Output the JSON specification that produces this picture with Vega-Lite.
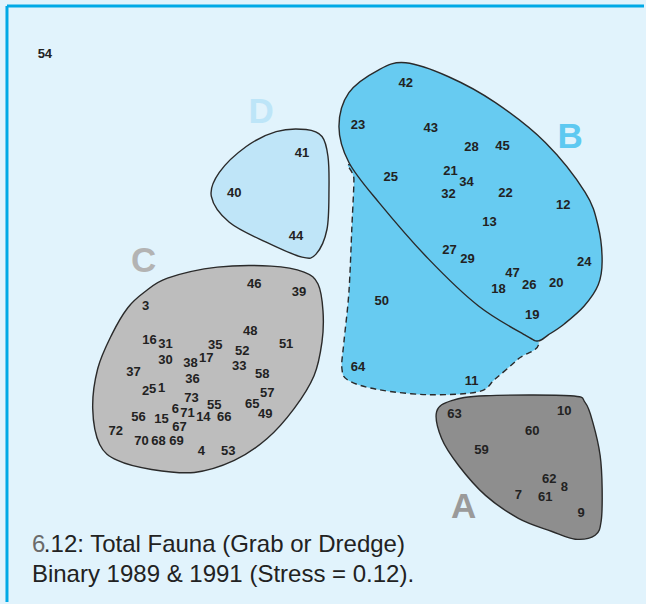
{
  "$schema": "https://vega.github.io/schema/vega-lite/v6.json",
  "width": 646,
  "height": 604,
  "padding": 0,
  "autosize": {"type": "fit", "contains": "padding"},
  "background": "#e1f3fc",
  "config": {"view": {"stroke": null}},
  "datasets": {
    "frame": [
      {"x": 7, "y": 6, "x2": 646, "y2": 6},
      {"x": 7, "y": 6, "x2": 7, "y2": 604}
    ],
    "hull": [
      {"g": "C", "i": 1, "x": 145, "y": 293}, {"g": "C", "i": 2, "x": 168, "y": 279}, {"g": "C", "i": 3, "x": 218, "y": 268}, {"g": "C", "i": 4, "x": 272, "y": 267}, {"g": "C", "i": 5, "x": 305, "y": 273}, {"g": "C", "i": 6, "x": 319, "y": 285}, {"g": "C", "i": 7, "x": 324, "y": 312}, {"g": "C", "i": 8, "x": 323, "y": 343}, {"g": "C", "i": 9, "x": 315, "y": 377}, {"g": "C", "i": 10, "x": 295, "y": 410}, {"g": "C", "i": 11, "x": 268, "y": 440}, {"g": "C", "i": 12, "x": 235, "y": 462}, {"g": "C", "i": 13, "x": 195, "y": 474}, {"g": "C", "i": 14, "x": 152, "y": 471}, {"g": "C", "i": 15, "x": 118, "y": 462}, {"g": "C", "i": 16, "x": 100, "y": 446}, {"g": "C", "i": 17, "x": 93, "y": 410}, {"g": "C", "i": 18, "x": 98, "y": 370}, {"g": "C", "i": 19, "x": 112, "y": 336}, {"g": "C", "i": 20, "x": 128, "y": 309},
      {"g": "A", "i": 1, "x": 438, "y": 413}, {"g": "A", "i": 2, "x": 453, "y": 402}, {"g": "A", "i": 3, "x": 487, "y": 397}, {"g": "A", "i": 4, "x": 572, "y": 397}, {"g": "A", "i": 5, "x": 587, "y": 404}, {"g": "A", "i": 6, "x": 595, "y": 425}, {"g": "A", "i": 7, "x": 602, "y": 457}, {"g": "A", "i": 8, "x": 604, "y": 490}, {"g": "A", "i": 9, "x": 603, "y": 523}, {"g": "A", "i": 10, "x": 597, "y": 537}, {"g": "A", "i": 11, "x": 577, "y": 541}, {"g": "A", "i": 12, "x": 553, "y": 533}, {"g": "A", "i": 13, "x": 520, "y": 520}, {"g": "A", "i": 14, "x": 487, "y": 497}, {"g": "A", "i": 15, "x": 460, "y": 467}, {"g": "A", "i": 16, "x": 443, "y": 440},
      {"g": "D", "i": 1, "x": 277, "y": 132}, {"g": "D", "i": 2, "x": 307, "y": 130}, {"g": "D", "i": 3, "x": 323, "y": 137}, {"g": "D", "i": 4, "x": 329, "y": 157}, {"g": "D", "i": 5, "x": 330, "y": 190}, {"g": "D", "i": 6, "x": 328, "y": 230}, {"g": "D", "i": 7, "x": 317, "y": 255}, {"g": "D", "i": 8, "x": 303, "y": 258}, {"g": "D", "i": 9, "x": 267, "y": 243}, {"g": "D", "i": 10, "x": 230, "y": 223}, {"g": "D", "i": 11, "x": 212, "y": 197}, {"g": "D", "i": 12, "x": 220, "y": 173}, {"g": "D", "i": 13, "x": 247, "y": 147},
      {"g": "E", "i": 1, "x": 353, "y": 166}, {"g": "E", "i": 2, "x": 420, "y": 200}, {"g": "E", "i": 3, "x": 500, "y": 290}, {"g": "E", "i": 4, "x": 540, "y": 341}, {"g": "E", "i": 5, "x": 520, "y": 360}, {"g": "E", "i": 6, "x": 497, "y": 380}, {"g": "E", "i": 7, "x": 480, "y": 393}, {"g": "E", "i": 8, "x": 430, "y": 396}, {"g": "E", "i": 9, "x": 380, "y": 391}, {"g": "E", "i": 10, "x": 350, "y": 382}, {"g": "E", "i": 11, "x": 343, "y": 370}, {"g": "E", "i": 12, "x": 345, "y": 343}, {"g": "E", "i": 13, "x": 350, "y": 293}, {"g": "E", "i": 14, "x": 353, "y": 227}, {"g": "E", "i": 15, "x": 355, "y": 180},
      {"g": "B", "i": 1, "x": 407, "y": 63}, {"g": "B", "i": 2, "x": 450, "y": 77}, {"g": "B", "i": 3, "x": 497, "y": 103}, {"g": "B", "i": 4, "x": 547, "y": 143}, {"g": "B", "i": 5, "x": 587, "y": 193}, {"g": "B", "i": 6, "x": 600, "y": 227}, {"g": "B", "i": 7, "x": 604, "y": 262}, {"g": "B", "i": 8, "x": 600, "y": 286}, {"g": "B", "i": 9, "x": 586, "y": 307}, {"g": "B", "i": 10, "x": 566, "y": 325}, {"g": "B", "i": 11, "x": 550, "y": 336}, {"g": "B", "i": 12, "x": 540, "y": 342}, {"g": "B", "i": 13, "x": 528, "y": 337}, {"g": "B", "i": 14, "x": 480, "y": 307}, {"g": "B", "i": 15, "x": 430, "y": 260}, {"g": "B", "i": 16, "x": 380, "y": 203}, {"g": "B", "i": 17, "x": 350, "y": 163}, {"g": "B", "i": 18, "x": 340, "y": 127}, {"g": "B", "i": 19, "x": 350, "y": 93}, {"g": "B", "i": 20, "x": 380, "y": 70}
    ],
    "pts": [
      {"label": "54", "x": 45, "y": 54},
      {"label": "3", "x": 146, "y": 307}, {"label": "46", "x": 255, "y": 285}, {"label": "39", "x": 300, "y": 293}, {"label": "48", "x": 251, "y": 332}, {"label": "16", "x": 150, "y": 341}, {"label": "31", "x": 166, "y": 345}, {"label": "35", "x": 216, "y": 346}, {"label": "51", "x": 287, "y": 345}, {"label": "52", "x": 243, "y": 352}, {"label": "30", "x": 166, "y": 361}, {"label": "38", "x": 191, "y": 364}, {"label": "17", "x": 207, "y": 359}, {"label": "33", "x": 240, "y": 367}, {"label": "58", "x": 263, "y": 375}, {"label": "37", "x": 134, "y": 373}, {"label": "36", "x": 193, "y": 380}, {"label": "2", "x": 146, "y": 392}, {"label": "5", "x": 153, "y": 390}, {"label": "1", "x": 162, "y": 389}, {"label": "73", "x": 192, "y": 399}, {"label": "55", "x": 215, "y": 406}, {"label": "57", "x": 268, "y": 394}, {"label": "65", "x": 253, "y": 405}, {"label": "49", "x": 266, "y": 415}, {"label": "6", "x": 176, "y": 410}, {"label": "71", "x": 188, "y": 414}, {"label": "14", "x": 204, "y": 418}, {"label": "66", "x": 225, "y": 418}, {"label": "56", "x": 139, "y": 418}, {"label": "15", "x": 162, "y": 420}, {"label": "67", "x": 180, "y": 428}, {"label": "72", "x": 116, "y": 432}, {"label": "70", "x": 142, "y": 442}, {"label": "68", "x": 159, "y": 442}, {"label": "69", "x": 177, "y": 442}, {"label": "4", "x": 202, "y": 452}, {"label": "53", "x": 229, "y": 452},
      {"label": "42", "x": 407, "y": 83}, {"label": "23", "x": 359, "y": 125}, {"label": "43", "x": 432, "y": 128}, {"label": "28", "x": 473, "y": 147}, {"label": "45", "x": 504, "y": 146}, {"label": "21", "x": 452, "y": 172}, {"label": "34", "x": 468, "y": 183}, {"label": "25", "x": 392, "y": 178}, {"label": "32", "x": 450, "y": 195}, {"label": "22", "x": 507, "y": 194}, {"label": "12", "x": 565, "y": 206}, {"label": "13", "x": 491, "y": 223}, {"label": "27", "x": 451, "y": 251}, {"label": "29", "x": 469, "y": 260}, {"label": "24", "x": 586, "y": 263}, {"label": "47", "x": 514, "y": 274}, {"label": "26", "x": 531, "y": 286}, {"label": "20", "x": 558, "y": 284}, {"label": "18", "x": 500, "y": 290}, {"label": "19", "x": 534, "y": 316}, {"label": "50", "x": 383, "y": 302}, {"label": "64", "x": 359, "y": 368}, {"label": "11", "x": 473, "y": 382},
      {"label": "63", "x": 456, "y": 415}, {"label": "10", "x": 566, "y": 412}, {"label": "60", "x": 534, "y": 432}, {"label": "59", "x": 483, "y": 451}, {"label": "62", "x": 551, "y": 481}, {"label": "8", "x": 566, "y": 489}, {"label": "7", "x": 520, "y": 497}, {"label": "61", "x": 547, "y": 499}, {"label": "9", "x": 583, "y": 515},
      {"label": "41", "x": 303, "y": 154}, {"label": "40", "x": 235, "y": 194}, {"label": "44", "x": 297, "y": 237}
    ],
    "letters": [
      {"g": "A", "x": 465, "y": 509}, {"g": "B", "x": 572, "y": 137}, {"g": "C", "x": 144, "y": 262}, {"g": "D", "x": 262, "y": 112}
    ],
    "caption": [
      {"text": "6", "kind": "num", "x": 32, "y": 554},
      {"text": ".12: Total Fauna (Grab or Dredge)", "kind": "txt", "x": 44, "y": 554},
      {"text": "Binary 1989 & 1991 (Stress = 0.12).", "kind": "txt", "x": 32, "y": 584}
    ]
  },
  "encoding": {
    "x": {"field": "x", "type": "quantitative", "scale": {"domain": [0, 646], "nice": false, "zero": false}, "axis": null},
    "y": {"field": "y", "type": "quantitative", "scale": {"domain": [0, 604], "nice": false, "zero": false, "reverse": true}, "axis": null}
  },
  "resolve": {"scale": {"color": "independent"}},
  "layer": [
    {
      "data": {"name": "frame"},
      "mark": {"type": "rule", "color": "#00a9e6", "strokeWidth": 3},
      "encoding": {"x2": {"field": "x2"}, "y2": {"field": "y2"}}
    },
    {
      "data": {"name": "hull"},
      "transform": [{"filter": "datum.g === 'C'"}],
      "mark": {"type": "line", "interpolate": "cardinal-closed", "fill": "#bdbdbd", "stroke": "#2a2a2a", "strokeWidth": 1.4},
      "encoding": {"order": {"field": "i", "type": "quantitative"}}
    },
    {
      "data": {"name": "hull"},
      "transform": [{"filter": "datum.g === 'A'"}],
      "mark": {"type": "line", "interpolate": "cardinal-closed", "fill": "#8e8e8e", "stroke": "#2a2a2a", "strokeWidth": 1.4},
      "encoding": {"order": {"field": "i", "type": "quantitative"}}
    },
    {
      "data": {"name": "hull"},
      "transform": [{"filter": "datum.g === 'D'"}],
      "mark": {"type": "line", "interpolate": "cardinal-closed", "fill": "#bfe5f8", "stroke": "#2a2a2a", "strokeWidth": 1.4},
      "encoding": {"order": {"field": "i", "type": "quantitative"}}
    },
    {
      "data": {"name": "hull"},
      "transform": [{"filter": "datum.g === 'E'"}],
      "mark": {"type": "line", "interpolate": "cardinal-closed", "fill": "#67cbf1", "stroke": "#2a2a2a", "strokeWidth": 1.4, "strokeDash": [6, 4]},
      "encoding": {"order": {"field": "i", "type": "quantitative"}}
    },
    {
      "data": {"name": "hull"},
      "transform": [{"filter": "datum.g === 'B'"}],
      "mark": {"type": "line", "interpolate": "cardinal-closed", "fill": "#67cbf1", "stroke": "#2a2a2a", "strokeWidth": 1.4},
      "encoding": {"order": {"field": "i", "type": "quantitative"}}
    },
    {
      "data": {"name": "pts"},
      "mark": {"type": "text", "font": "Liberation Sans", "fontWeight": "bold", "fontSize": 13, "color": "#222222", "align": "center", "baseline": "middle"},
      "encoding": {"text": {"field": "label"}}
    },
    {
      "data": {"name": "letters"},
      "mark": {"type": "text", "font": "Liberation Sans", "fontWeight": "bold", "fontSize": 35, "align": "center", "baseline": "middle"},
      "encoding": {
        "text": {"field": "g"},
        "color": {"field": "g", "type": "nominal", "scale": {"domain": ["A", "B", "C", "D"], "range": ["#9a9a9a", "#5ec9f1", "#b3b3b3", "#bde5f8"]}, "legend": null}
      }
    },
    {
      "data": {"name": "caption"},
      "mark": {"type": "text", "font": "Liberation Sans", "fontSize": 24, "align": "left", "baseline": "alphabetic"},
      "encoding": {
        "text": {"field": "text"},
        "color": {"field": "kind", "type": "nominal", "scale": {"domain": ["num", "txt"], "range": ["#6a6a6a", "#222222"]}, "legend": null}
      }
    }
  ]
}
